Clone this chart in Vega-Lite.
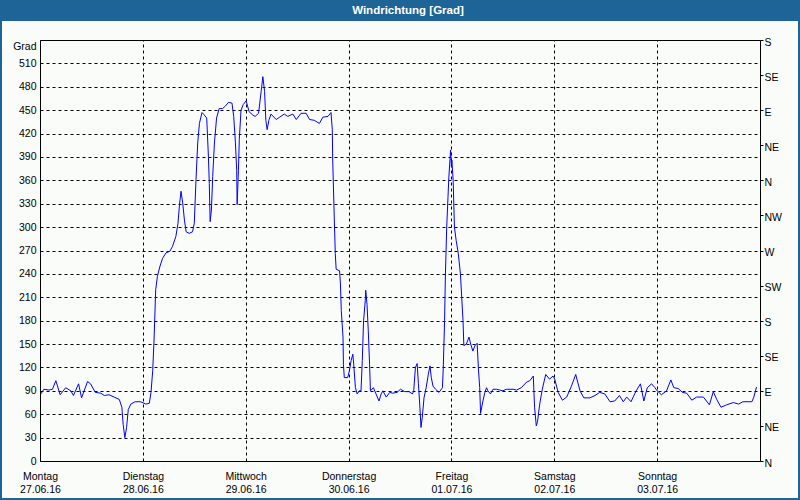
{
  "$schema": "https://vega.github.io/schema/vega-lite/v6.json",
  "background": "#1f6497",
  "padding": {"left": 2, "top": 0, "right": 2, "bottom": 2},
  "spacing": 0,
  "config": {
    "font": "Liberation Sans",
    "view": {"stroke": null},
    "axis": {
      "labelFont": "Liberation Sans", "labelFontSize": 10.5, "labelColor": "#000000",
      "titleFont": "Liberation Sans", "titleFontSize": 10.5, "titleFontWeight": "normal", "titleColor": "#000000",
      "domainColor": "#000000", "domainWidth": 1, "tickColor": "#000000",
      "gridColor": "#000000", "gridDash": [3, 3], "gridOpacity": 1, "gridWidth": 1
    }
  },
  "datasets": {
    "wind": [
      {"h":0.2,"deg":86},{"h":0.9,"deg":92},{"h":2.1,"deg":91},{"h":2.9,"deg":92},{"h":3.7,"deg":103},{"h":4.7,"deg":85},{"h":6.0,"deg":94},{"h":7.2,"deg":90},{"h":7.8,"deg":84},{"h":9.0,"deg":99},{"h":9.7,"deg":81},{"h":11.1,"deg":102},{"h":11.8,"deg":99},{"h":12.9,"deg":88},{"h":14.2,"deg":87},{"h":15.0,"deg":84},{"h":16.1,"deg":85},{"h":17.3,"deg":82},{"h":18.5,"deg":79},{"h":19.1,"deg":69},{"h":19.4,"deg":47},{"h":19.8,"deg":30},{"h":20.2,"deg":43},{"h":20.6,"deg":66},{"h":21.2,"deg":73},{"h":22.2,"deg":76},{"h":23.5,"deg":76},{"h":24.7,"deg":73},{"h":25.5,"deg":74},{"h":25.9,"deg":88},{"h":26.3,"deg":116},{"h":26.6,"deg":154},
      {"h":27.0,"deg":220},{"h":27.4,"deg":237},{"h":28.0,"deg":250},{"h":28.6,"deg":260},{"h":29.4,"deg":267},{"h":30.3,"deg":269},{"h":30.9,"deg":275},{"h":31.7,"deg":288},{"h":32.2,"deg":305},{"h":32.5,"deg":326},{"h":32.9,"deg":346},{"h":33.3,"deg":331},{"h":33.7,"deg":309},{"h":34.1,"deg":294},{"h":34.8,"deg":292},{"h":35.6,"deg":294},{"h":36.0,"deg":305},{"h":36.4,"deg":361},{"h":36.8,"deg":408},{"h":37.2,"deg":433},{"h":37.8,"deg":447},{"h":38.3,"deg":444},{"h":38.9,"deg":440},{"h":39.3,"deg":390},{"h":39.5,"deg":356},{"h":39.7,"deg":307},{"h":40.0,"deg":322},{"h":40.3,"deg":365},{"h":40.7,"deg":408},{"h":41.2,"deg":440},{"h":41.8,"deg":452},{"h":42.6,"deg":452},{"h":43.2,"deg":455},{"h":44.0,"deg":460},{"h":44.8,"deg":459},{"h":45.2,"deg":442},{"h":45.6,"deg":408},{"h":45.9,"deg":373},{"h":46.0,"deg":329},{"h":46.3,"deg":373},{"h":46.5,"deg":412},{"h":46.9,"deg":450},{"h":47.4,"deg":457},
      {"h":48.1,"deg":462},{"h":48.8,"deg":448},{"h":49.6,"deg":444},{"h":50.2,"deg":442},{"h":51.0,"deg":446},{"h":51.6,"deg":474},{"h":52.0,"deg":493},{"h":52.4,"deg":474},{"h":52.7,"deg":437},{"h":53.0,"deg":425},{"h":53.4,"deg":437},{"h":53.9,"deg":445},{"h":55.1,"deg":438},{"h":55.9,"deg":441},{"h":57.0,"deg":445},{"h":57.8,"deg":442},{"h":59.0,"deg":445},{"h":59.8,"deg":438},{"h":60.9,"deg":446},{"h":62.1,"deg":446},{"h":62.9,"deg":438},{"h":64.0,"deg":437},{"h":65.2,"deg":433},{"h":66.0,"deg":441},{"h":67.2,"deg":442},{"h":67.9,"deg":447},{"h":68.2,"deg":425},{"h":68.3,"deg":386},{"h":68.5,"deg":345},{"h":68.7,"deg":304},{"h":68.9,"deg":266},{"h":69.1,"deg":246},{"h":69.9,"deg":244},{"h":70.1,"deg":227},{"h":70.3,"deg":193},{"h":70.7,"deg":159},{"h":70.8,"deg":124},{"h":71.0,"deg":107},{"h":71.8,"deg":107},
      {"h":72.2,"deg":116},{"h":72.6,"deg":129},{"h":73.0,"deg":137},{"h":73.2,"deg":124},{"h":73.6,"deg":94},{"h":74.0,"deg":86},{"h":74.5,"deg":90},{"h":74.9,"deg":90},{"h":75.2,"deg":129},{"h":75.5,"deg":180},{"h":75.9,"deg":206},{"h":76.0,"deg":219},{"h":76.3,"deg":201},{"h":76.6,"deg":167},{"h":76.9,"deg":124},{"h":77.1,"deg":90},{"h":77.8,"deg":94},{"h":78.4,"deg":86},{"h":79.1,"deg":77},{"h":79.6,"deg":86},{"h":80.0,"deg":90},{"h":80.8,"deg":82},{"h":81.6,"deg":88},{"h":82.3,"deg":87},{"h":83.3,"deg":88},{"h":84.1,"deg":92},{"h":85.1,"deg":89},{"h":86.1,"deg":89},{"h":86.9,"deg":86},{"h":87.2,"deg":90},{"h":87.6,"deg":120},{"h":88.0,"deg":125},{"h":88.3,"deg":99},{"h":88.6,"deg":73},{"h":88.9,"deg":43},{"h":89.2,"deg":56},{"h":89.6,"deg":81},{"h":90.1,"deg":94},{"h":90.6,"deg":111},{"h":91.0,"deg":122},{"h":91.3,"deg":107},{"h":91.7,"deg":96},{"h":92.3,"deg":92},{"h":93.1,"deg":88},{"h":93.9,"deg":94},{"h":94.1,"deg":120},{"h":94.4,"deg":180},{"h":94.6,"deg":240},{"h":94.9,"deg":300},{"h":95.2,"deg":339},{"h":95.4,"deg":364},{"h":95.7,"deg":390},{"h":95.8,"deg":399},
      {"h":96.0,"deg":377},{"h":96.1,"deg":386},{"h":96.4,"deg":360},{"h":96.7,"deg":300},{"h":97.1,"deg":283},{"h":97.6,"deg":266},{"h":98.1,"deg":240},{"h":98.4,"deg":210},{"h":98.7,"deg":180},{"h":98.9,"deg":148},{"h":99.5,"deg":150},{"h":100.1,"deg":159},{"h":100.5,"deg":150},{"h":101.0,"deg":141},{"h":101.5,"deg":148},{"h":102.0,"deg":151},{"h":102.3,"deg":118},{"h":102.6,"deg":94},{"h":102.8,"deg":61},{"h":103.2,"deg":73},{"h":103.8,"deg":88},{"h":104.2,"deg":94},{"h":104.5,"deg":90},{"h":105.1,"deg":86},{"h":105.7,"deg":92},{"h":106.5,"deg":92},{"h":107.3,"deg":91},{"h":108.0,"deg":90},{"h":108.8,"deg":92},{"h":110.4,"deg":92},{"h":111.2,"deg":91},{"h":112.3,"deg":94},{"h":113.5,"deg":101},{"h":114.3,"deg":103},{"h":115.1,"deg":109},{"h":115.4,"deg":69},{"h":115.8,"deg":45},{"h":116.1,"deg":51},{"h":116.6,"deg":73},{"h":117.2,"deg":92},{"h":118.0,"deg":111},{"h":118.9,"deg":105},{"h":119.7,"deg":109},
      {"h":120.1,"deg":105},{"h":120.9,"deg":88},{"h":121.9,"deg":78},{"h":122.9,"deg":82},{"h":124.0,"deg":96},{"h":125.0,"deg":111},{"h":126.0,"deg":90},{"h":126.9,"deg":81},{"h":128.3,"deg":81},{"h":129.5,"deg":84},{"h":130.6,"deg":88},{"h":131.8,"deg":86},{"h":133.0,"deg":76},{"h":134.1,"deg":77},{"h":135.2,"deg":84},{"h":136.1,"deg":76},{"h":136.9,"deg":82},{"h":137.9,"deg":76},{"h":139.1,"deg":90},{"h":140.1,"deg":99},{"h":140.9,"deg":77},{"h":141.7,"deg":94},{"h":142.7,"deg":99},{"h":143.5,"deg":94},
      {"h":144.0,"deg":90},{"h":145.0,"deg":85},{"h":146.2,"deg":90},{"h":147.2,"deg":104},{"h":147.9,"deg":94},{"h":148.9,"deg":93},{"h":149.9,"deg":88},{"h":150.9,"deg":87},{"h":152.1,"deg":78},{"h":153.2,"deg":82},{"h":154.8,"deg":82},{"h":156.2,"deg":72},{"h":157.1,"deg":89},{"h":157.9,"deg":79},{"h":158.9,"deg":69},{"h":160.2,"deg":72},{"h":161.8,"deg":75},{"h":163.0,"deg":73},{"h":164.0,"deg":76},{"h":166.1,"deg":76},{"h":166.5,"deg":81},{"h":167.2,"deg":95}
    ]
  },
  "vconcat": [
    {
      "width": 796,
      "height": 21,
      "data": {"values": [{"titel": "Windrichtung [Grad]"}]},
      "mark": {"type": "text", "color": "#ffffff", "font": "Liberation Sans", "fontSize": 11.5, "fontWeight": "bold", "baseline": "middle", "align": "center", "dx": 8},
      "encoding": {"text": {"field": "titel", "type": "nominal"}}
    },
    {
      "width": 796,
      "height": 477,
      "view": {"fill": "#fafcfa", "stroke": null},
      "data": {"name": "wind"},
      "layer": [
        {
          "mark": {"type": "line", "opacity": 0},
          "encoding": {
            "x": {
              "field": "h", "type": "quantitative",
              "scale": {"domain": [0, 168], "range": [38, 758], "nice": false, "zero": false},
              "axis": {
                "orient": "top", "offset": -19,
                "values": [0, 24, 48, 72, 96, 120, 144],
                "labels": false, "ticks": false, "tickSize": 0, "grid": true, "title": null, "domainColor": "#000000"
              }
            },
            "y": {
              "field": "deg", "type": "quantitative",
              "scale": {"domain": [0, 540], "range": [440, 19], "nice": false, "zero": false},
              "axis": {
                "orient": "right", "offset": -38,
                "values": [0, 45, 90, 135, 180, 225, 270, 315, 360, 405, 450, 495, 540],
                "labelExpr": "['N','NE','E','SE','S','SW','W','NW','N','NE','E','SE','S'][round(datum.value/45)]",
                "ticks": true, "tickSize": 3, "labelPadding": 1, "labelOffset": 2,
                "grid": false, "title": null
              }
            }
          }
        },
        {
          "mark": {"type": "line", "color": "#0000ff", "strokeWidth": 1},
          "encoding": {
            "x": {
              "field": "h", "type": "quantitative",
              "scale": {"domain": [0, 168], "range": [38, 758], "nice": false, "zero": false},
              "axis": {
                "orient": "bottom", "offset": -37,
                "values": [0, 24, 48, 72, 96, 120, 144],
                "labelExpr": "[['Montag','Dienstag','Mittwoch','Donnerstag','Freitag','Samstag','Sonntag'][round(datum.value/24)], ['27.06.16','28.06.16','29.06.16','30.06.16','01.07.16','02.07.16','03.07.16'][round(datum.value/24)]]",
                "ticks": false, "tickSize": 0, "labelPadding": 10, "labelLineHeight": 13.5,
                "labelFlush": false, "labelOverlap": false, "grid": false, "title": null
              }
            },
            "y": {
              "field": "deg", "type": "quantitative",
              "scale": {"domain": [0, 540], "range": [440, 19], "nice": false, "zero": false},
              "axis": {
                "orient": "left", "offset": -38,
                "values": [0, 30, 60, 90, 120, 150, 180, 210, 240, 270, 300, 330, 360, 390, 420, 450, 480, 510],
                "ticks": false, "tickSize": 0, "labelPadding": 4, "grid": true,
                "title": "Grad", "titleAngle": 0, "titleAlign": "right", "titleBaseline": "middle", "titleX": -4, "titleY": 25
              }
            }
          }
        }
      ],
      "resolve": {"axis": {"x": "independent", "y": "independent"}}
    }
  ]
}
